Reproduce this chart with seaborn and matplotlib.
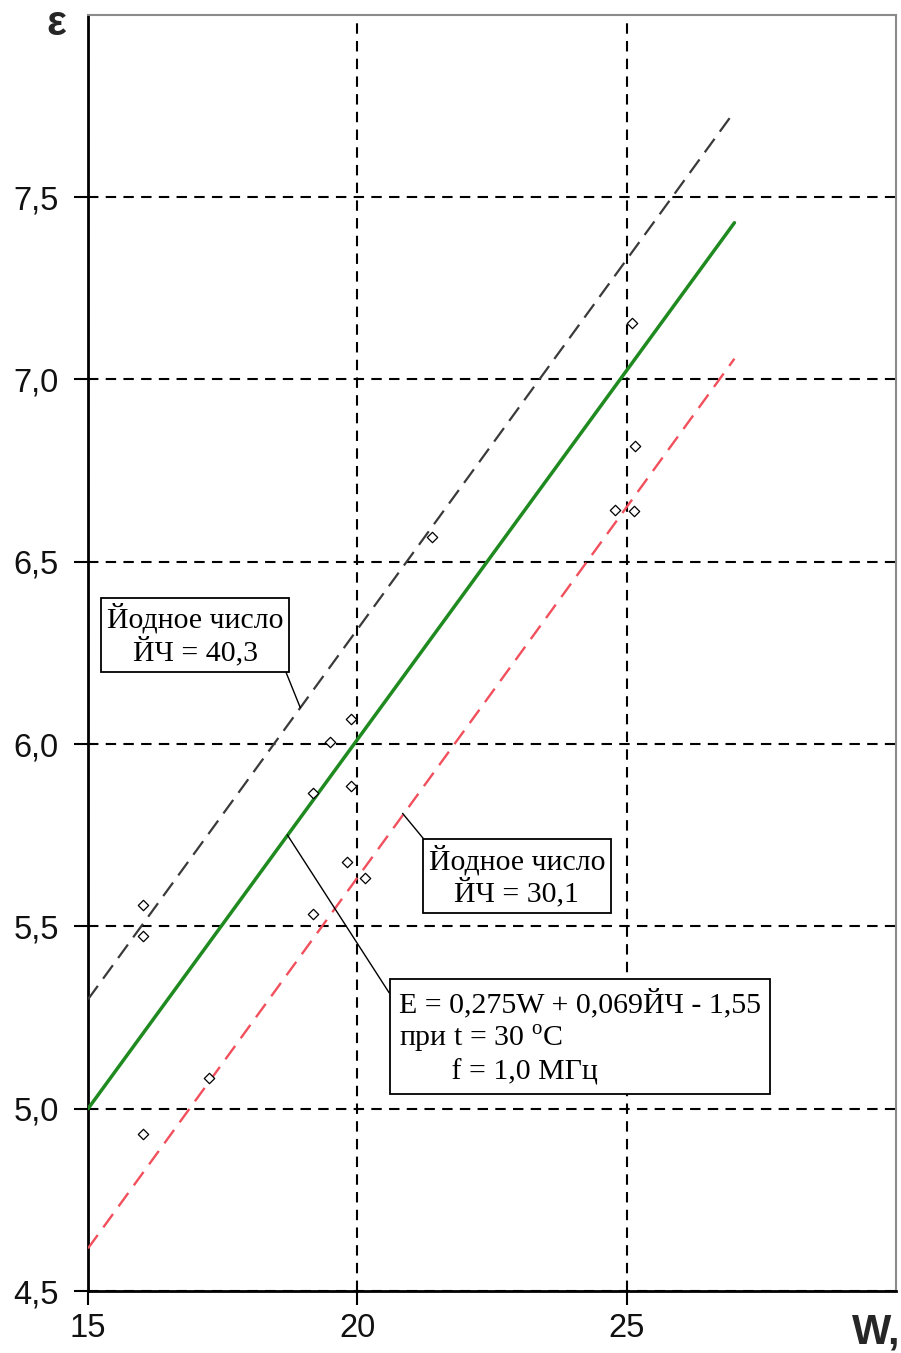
"""
ε vs W — dielectric permittivity against moisture, with iodine-number regression lines.
"""
import numpy as np
import pandas as pd
import matplotlib
matplotlib.use("Agg")
import matplotlib.pyplot as plt
import seaborn as sns
from matplotlib.ticker import FuncFormatter

# ── Data ─────────────────────────────────────────────────────────────────────
W_POINTS   = [16.02, 16.02, 16.02, 17.25, 19.18, 19.18, 19.50, 19.89, 19.89,
              19.81, 20.15, 21.38, 24.78, 25.09, 25.15, 25.13]
EPS_POINTS = [5.56, 5.475, 4.93, 5.085, 5.866, 5.533, 6.005, 6.068, 5.885,
              5.678, 5.634, 6.568, 6.642, 7.156, 6.817, 6.64]

LINE_W       = [15, 27]
LINE_IV40    = [5.30, 7.735]   # ЙЧ = 40,3
LINE_MEAN    = [5.00, 7.43]    # regression
LINE_IV30    = [4.617, 7.057]  # ЙЧ = 30,1

X_TICKS = [15, 20, 25]
Y_TICKS = [4.5, 5.0, 5.5, 6.0, 6.5, 7.0, 7.5]

sns.set_style("white")
plt.rcParams["font.family"] = ["Liberation Sans", "DejaVu Sans"]
plt.rcParams["mathtext.fontset"] = "custom"
plt.rcParams["mathtext.rm"] = "Liberation Serif"

fig = plt.figure(figsize=(9.01, 13.53), dpi=100)
ax = fig.add_axes([0.0977, 0.0458, 0.8968, 0.9432])

pts = pd.DataFrame({"W": W_POINTS, "eps": EPS_POINTS})
lines = pd.DataFrame({"W": LINE_W * 3,
                      "eps": LINE_IV40 + LINE_MEAN + LINE_IV30,
                      "kind": ["iv40"] * 2 + ["mean"] * 2 + ["iv30"] * 2})

sns.lineplot(data=lines[lines.kind == "iv40"], x="W", y="eps", ax=ax,
             color="#3a3a3a", lw=1.6, zorder=3)
ax.lines[-1].set_dashes((7.5, 4))
sns.lineplot(data=lines[lines.kind == "mean"], x="W", y="eps", ax=ax,
             color="#1f8a1f", lw=2.5, zorder=4)
sns.lineplot(data=lines[lines.kind == "iv30"], x="W", y="eps", ax=ax,
             color="#f24f5c", lw=1.7, zorder=3)
ax.lines[-1].set_dashes((7, 4))

sns.scatterplot(data=pts, x="W", y="eps", ax=ax, marker="D", s=28,
                facecolor="white", edgecolor="black", linewidth=0.9, zorder=5)

# ── Axes ─────────────────────────────────────────────────────────────────────
ax.set_xlim(15, 30)
ax.set_ylim(4.5, 8.0)
ax.set_xticks(X_TICKS)
ax.set_yticks(Y_TICKS)
ax.yaxis.set_major_formatter(FuncFormatter(lambda v, _: f"{v:.1f}".replace(".", ",")))
ax.set_xlabel("")
ax.set_ylabel("")
ax.tick_params(axis="both", which="major", labelsize=23.5, length=10, width=1.5,
               direction="out", color="black", labelcolor="#111111",
               bottom=True, left=True)
ax.tick_params(axis="y", pad=11)
ax.tick_params(axis="x", pad=6)
ax.grid(True, color="black", lw=1.5, linestyle=(0, (5, 3.5)))
ax.set_axisbelow(True)
for side in ("left", "bottom"):
    ax.spines[side].set_color("black")
    ax.spines[side].set_linewidth(2)
for side in ("top", "right"):
    ax.spines[side].set_color("#8a8a8a")
    ax.spines[side].set_linewidth(1.5)

fig.text(0.062, 0.982, "ε", fontsize=30, fontweight="bold", ha="center", va="center")
fig.text(0.973, 0.015, "W,", fontsize=30, fontweight="bold", ha="center", va="center")

# ── Annotation boxes ─────────────────────────────────────────────────────────
serif = ["Liberation Serif", "DejaVu Serif"]
box = dict(boxstyle="square,pad=0.2", fc="white", ec="black", lw=1.3)
arrow = dict(arrowstyle="-", color="black", lw=1.0, shrinkA=0, shrinkB=0)

ax.annotate("Йодное число\nЙЧ = 40,3", xy=(18.94, 6.10), xytext=(16.99, 6.30),
            ha="center", va="center", fontsize=21.5, family=serif, linespacing=1.1,
            color="black", bbox=box, arrowprops=dict(arrow, relpos=(1, 0)), zorder=6)
ax.annotate("Йодное число\nЙЧ = 30,1", xy=(20.84, 5.81), xytext=(22.96, 5.638),
            ha="center", va="center", fontsize=21.5, family=serif, linespacing=1.1,
            color="black", bbox=box, arrowprops=dict(arrow, relpos=(0, 1)), zorder=6)
ax.annotate("E = 0,275W + 0,069ЙЧ - 1,55\nпри t = 30 $^{\\mathrm{o}}$C\n"
            "       f = 1,0 МГц",
            xy=(18.70, 5.751), xytext=(24.13, 5.197),
            ha="center", va="center", fontsize=21.5, family=serif, linespacing=1.2,
            multialignment="left", color="black",
            bbox=dict(box, boxstyle="square,pad=0.3"),
            arrowprops=dict(arrow, relpos=(0, 0.8)), zorder=6)

fig.savefig("out.png", dpi=100)
